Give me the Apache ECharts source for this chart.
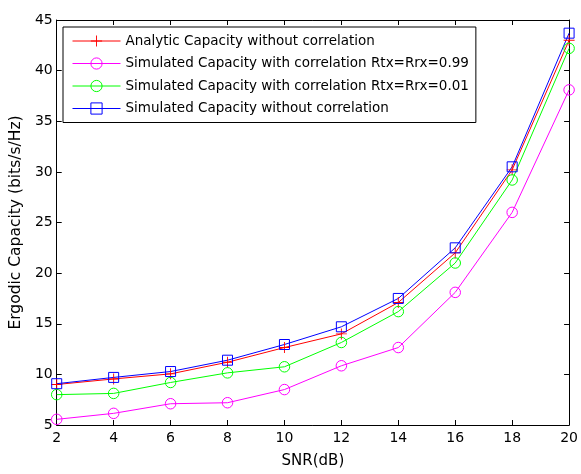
<!DOCTYPE html>
<html>
<head>
<meta charset="utf-8">
<script src="https://cdn.jsdelivr.net/npm/echarts@6/dist/echarts.min.js"></script>
<style>html,body{margin:0;padding:0;background:#fff;}#c{width:581px;height:474px;}</style>
</head>
<body>
<div id="c"></div>
<script>
var snr = [2, 4, 6, 8, 10, 12, 14, 16, 18, 20];
var analyticNoCorr = [9.0, 9.55, 10.05, 11.2, 12.65, 14.0, 17.1, 22.0, 30.2, 43.0];
var simCorr099 = [5.56, 6.15, 7.1, 7.2, 8.5, 10.85, 12.65, 18.1, 26.0, 38.1];
var simCorr001 = [8.0, 8.12, 9.2, 10.15, 10.75, 13.15, 16.2, 21.0, 29.2, 42.2];
var simNoCorr = [9.08, 9.7, 10.28, 11.4, 12.95, 14.7, 17.5, 22.5, 30.5, 43.7];
var names = [
  'Analytic Capacity without correlation',
  'Simulated Capacity with correlation Rtx=Rrx=0.99',
  'Simulated Capacity with correlation Rtx=Rrx=0.01',
  'Simulated Capacity without correlation'
];
var colors = ['#ff0000', '#ff00ff', '#00ff00', '#0000ff'];
var xTicks = [2, 4, 6, 8, 10, 12, 14, 16, 18, 20];
var yTicks = [5, 10, 15, 20, 25, 30, 35, 40, 45];

function pairs(ys) { return snr.map(function (x, i) { return [x, ys[i]]; }); }
var plus = 'path://M5.5,0H6.5V5.5H12V6.5H6.5V12H5.5V6.5H0V5.5H5.5Z';
var font = 'DejaVu Sans, Verdana, sans-serif';
var clear = 'rgba(255,255,255,0)';

function mk(name, ys, color, symbol, size, hollow) {
  return {
    name: name, type: 'line', data: pairs(ys), color: color,
    symbol: symbol, symbolSize: size, showSymbol: true,
    lineStyle: { color: color, width: 1 },
    itemStyle: hollow
      ? { color: clear, borderColor: color, borderWidth: 1 }
      : { color: color, borderWidth: 0 },
    emphasis: { disabled: true }, animation: false
  };
}

var legendData = names.map(function (n, i) {
  var hollow = i > 0;
  return {
    name: n,
    lineStyle: { color: colors[i], width: 1 },
    itemStyle: hollow
      ? { color: clear, borderColor: colors[i], borderWidth: 1 }
      : { color: colors[i], borderWidth: 0 }
  };
});

var chart = echarts.init(document.getElementById('c'));
var axisCommon = {
  axisLine: { show: true, lineStyle: { color: '#000', width: 1 } },
  axisTick: { show: true, inside: true, length: 5, lineStyle: { color: '#000' } },
  splitLine: { show: false }
};
chart.setOption({
  backgroundColor: '#fff',
  animation: false,
  grid: { left: 55.5, right: 7, top: 20, bottom: 45 },
  legend: {
    orient: 'vertical', left: 63, top: 27,
    padding: [7, 7, 7, 9], itemGap: 8.5, itemWidth: 48, itemHeight: 14,
    borderColor: '#000', borderWidth: 1, backgroundColor: '#fff',
    textStyle: { fontFamily: font, fontSize: 13.5, color: '#000' },
    data: legendData
  },
  xAxis: [
    Object.assign({ type: 'value', min: 2, max: 20, interval: 2, position: 'bottom',
      name: 'SNR(dB)', nameLocation: 'middle', nameGap: 29,
      nameTextStyle: { fontFamily: font, fontSize: 15, color: '#000' },
      axisLabel: { fontFamily: font, fontSize: 14, color: '#000', margin: 6,
        formatter: function (v) { return xTicks.indexOf(v) >= 0 ? String(v) : ''; } }
    }, axisCommon),
    Object.assign({ type: 'value', min: 2, max: 20, interval: 2, position: 'top',
      axisLabel: { show: false } }, axisCommon)
  ],
  yAxis: [
    Object.assign({ type: 'value', min: 5, max: 45, interval: 5, position: 'left',
      name: 'Ergodic Capacity (bits/s/Hz)', nameLocation: 'middle', nameGap: 28,
      nameTextStyle: { fontFamily: font, fontSize: 15.5, color: '#000' },
      axisLabel: { fontFamily: font, fontSize: 14, color: '#000', margin: 4,
        formatter: function (v) { return yTicks.indexOf(v) >= 0 ? String(v) : ''; } }
    }, axisCommon),
    Object.assign({ type: 'value', min: 5, max: 45, interval: 5, position: 'right',
      axisLabel: { show: false } }, axisCommon)
  ],
  series: [
    mk(names[0], analyticNoCorr, colors[0], plus, 11, false),
    mk(names[1], simCorr099, colors[1], 'circle', 10.5, true),
    mk(names[2], simCorr001, colors[2], 'circle', 10.5, true),
    mk(names[3], simNoCorr, colors[3], 'rect', 10, true)
  ]
});
</script>
</body>
</html>
